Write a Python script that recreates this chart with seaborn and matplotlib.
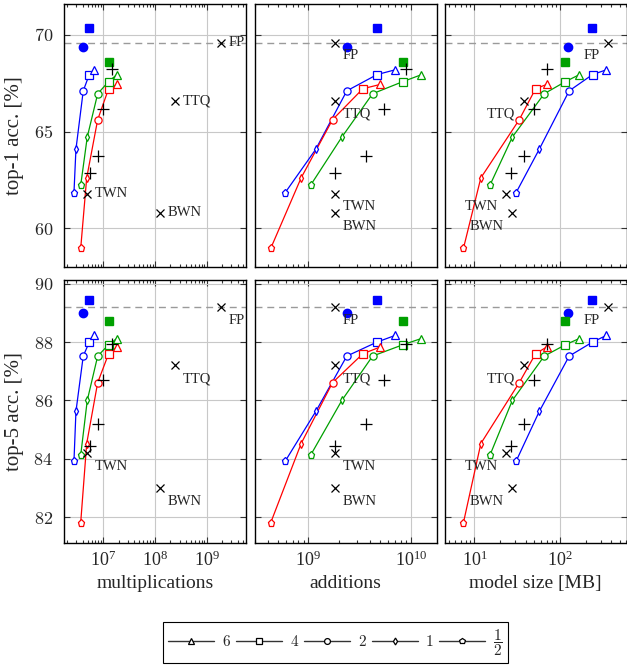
import numpy as np
import pandas as pd
import matplotlib
matplotlib.use("Agg")
import matplotlib.pyplot as plt
import seaborn as sns
from matplotlib.lines import Line2D
from matplotlib.ticker import LogLocator, NullFormatter, FuncFormatter, FixedLocator

# ==========================================
# DATA
# ==========================================

bit_labels = ["1/2", "1", "2", "4", "6"]
bit_markers = ["p", "d", "o", "s", "^"]

# blue series
blue_top1 = [61.84, 64.09, 67.11, 67.95, 68.20]
blue_top5 = [83.91, 85.62, 87.52, 88.00, 88.23]
blue_mult = [2.71e6, 2.96e6, 4.10e6, 5.36e6, 6.61e6]
blue_add = [5.92e8, 1.18e9, 2.37e9, 4.67e9, 7.05e9]
blue_size = [30.7, 57.4, 128.5, 241.0, 351.0]

# red series
red_top1 = [58.97, 62.61, 65.62, 67.22, 67.44]
red_top5 = [81.81, 84.52, 86.61, 87.60, 87.83]
red_mult = [3.66e6, 4.78e6, 7.80e6, 1.27e7, 1.82e7]
red_add = [4.29e8, 8.49e8, 1.72e9, 3.40e9, 5.01e9]
red_size = [7.45, 11.9, 33.5, 52.0, 70.0]

# green series
green_top1 = [62.23, 64.72, 66.96, 67.59, 67.94]
green_top5 = [84.12, 86.00, 87.52, 87.91, 88.12]
green_mult = [3.66e6, 4.90e6, 7.80e6, 1.27e7, 1.82e7]
green_add = [1.05e9, 2.12e9, 4.23e9, 8.38e9, 1.26e10]
green_size = [15.2, 27.8, 65.6, 116.4, 167.9]

# full precision variants (filled markers)
fp_names = ["blue_sq", "blue_ci", "green_sq"]
fp_colors = ["#0000ff", "#0000ff", "#00a000"]
fp_marks = ["s", "o", "s"]
fp_top1 = [70.36, 69.36, 68.59]
fp_top5 = [89.43, 89.01, 88.71]
fp_mult = [5.36e6, 4.10e6, 1.27e7]
fp_add = [4.67e9, 2.37e9, 8.38e9]
fp_size = [239.0, 126.0, 116.4]

# other methods (+)
plus_top1 = [68.25, 66.19, 63.73, 62.87]
plus_top5 = [87.94, 86.71, 85.20, 84.42]
plus_mult = [1.50e7, 1.00e7, 7.94e6, 5.50e6]
plus_add = [9.02e9, 5.41e9, 3.61e9, 1.82e9]
plus_size = [71.1, 50.1, 38.0, 26.6]

# baselines (x)
base_names = ["FP", "TTQ", "TWN", "BWN"]
base_top1 = [69.6, 66.6, 61.8, 60.8]
base_top5 = [89.2, 87.2, 84.2, 83.0]
base_mult = [1.86e9, 2.44e8, 4.90e6, 1.25e8]
base_add = [1.82e9, 1.82e9, 1.82e9, 1.82e9]
base_size = [366.0, 38.0, 23.4, 27.3]

fp_line_top1 = 69.6
fp_line_top5 = 89.2

# ==========================================
# FRAMES
# ==========================================

series = {
    "blue": (blue_top1, blue_top5, blue_mult, blue_add, blue_size),
    "red": (red_top1, red_top5, red_mult, red_add, red_size),
    "green": (green_top1, green_top5, green_mult, green_add, green_size),
}
palette = {"blue": "#0000ff", "red": "#ff0000", "green": "#00a000"}

rows = []
for name, (t1, t5, mu, ad, sz) in series.items():
    for i, b in enumerate(bit_labels):
        rows.append({
            "series": name, "bits": b,
            "top1": t1[i], "top5": t5[i],
            "mult": mu[i], "add": ad[i], "size": sz[i],
        })
df = pd.DataFrame(rows)

fp_df = pd.DataFrame({
    "name": fp_names, "top1": fp_top1, "top5": fp_top5,
    "mult": fp_mult, "add": fp_add, "size": fp_size,
})
plus_df = pd.DataFrame({
    "top1": plus_top1, "top5": plus_top5,
    "mult": plus_mult, "add": plus_add, "size": plus_size,
})
base_df = pd.DataFrame({
    "name": base_names, "top1": base_top1, "top5": base_top5,
    "mult": base_mult, "add": base_add, "size": base_size,
})

# ==========================================
# STYLE
# ==========================================

sns.set_theme(style="ticks")
plt.rcParams["font.family"] = ["Liberation Serif", "DejaVu Serif"]
plt.rcParams["mathtext.fontset"] = "cm"

fig = plt.figure(figsize=(6.27, 6.66), dpi=100)

col_left = [0.1021, 0.4062, 0.7093]
col_w = 0.290
row_bottom = [0.599, 0.1842]
row_h = 0.395

xcols = ["mult", "add", "size"]
xlims = [(1.74e6, 5.75e9), (2.99e8, 1.78e10), (4.5, 603)]
xlabels = ["multiplications", "additions", "model size [MB]"]
ycols = ["top1", "top5"]
ylims = [(58.0, 71.6), (81.1, 90.12)]
yticks = [[60, 65, 70], [82, 84, 86, 88, 90]]
ylabels = ["top-1 acc. [%]", "top-5 acc. [%]"]
fp_lines = [fp_line_top1, fp_line_top5]

math_fmt = FuncFormatter(lambda v, p: f"${v:g}$")

for r in range(2):
    for c in range(3):
        ax = fig.add_axes([col_left[c], row_bottom[r], col_w, row_h])
        ax.set_xscale("log")
        xc = xcols[c]
        yc = ycols[r]

        ax.axhline(fp_lines[r], color="#9a9a9a", lw=1.0,
                   ls=(0, (5, 3.5)), zorder=1)

        sns.lineplot(
            data=df, x=xc, y=yc, hue="series", palette=palette,
            sort=False, estimator=None, legend=False,
            lw=0.9, ax=ax, zorder=3
        )

        for name in series:
            sub = df[df["series"] == name]
            for b, m in zip(bit_labels, bit_markers):
                pt = sub[sub["bits"] == b]
                ax.plot(
                    pt[xc], pt[yc], ls="none", marker=m,
                    ms=4.2 if m == "d" else 5.2,
                    mfc="white", mec=palette[name], mew=0.9, zorder=4
                )

        for _, row in fp_df.iterrows():
            col = fp_colors[fp_names.index(row["name"])]
            mk = fp_marks[fp_names.index(row["name"])]
            ax.plot(row[xc], row[yc], ls="none", marker=mk, ms=6,
                    mfc=col, mec=col, zorder=4)

        ax.plot(plus_df[xc], plus_df[yc], ls="none", marker="+",
                ms=8, mew=0.9, color="black", zorder=5)
        ax.plot(base_df[xc], base_df[yc], ls="none", marker="x",
                ms=5.5, mew=0.9, color="black", zorder=5)

        for _, row in base_df.iterrows():
            if r == 0 and c == 0:
                off, ha, va = (5.5, 0), "left", "center"
            elif c == 2:
                off, ha, va = (-6, -9.5), "right", "center"
            else:
                off, ha, va = (5.5, -9.5), "left", "center"
            ax.annotate(row["name"], (row[xc], row[yc]), xytext=off,
                        textcoords="offset points", ha=ha, va=va,
                        fontsize=10.5, zorder=6)

        ax.set_xlim(*xlims[c])
        ax.set_ylim(*ylims[r])

        ax.xaxis.set_major_locator(LogLocator(base=10, subs=(1.0,), numticks=100))
        ax.xaxis.set_minor_locator(
            LogLocator(base=10, subs=np.arange(2, 10), numticks=100))
        ax.xaxis.set_minor_formatter(NullFormatter())
        ax.yaxis.set_major_locator(FixedLocator(yticks[r]))
        ax.yaxis.set_major_formatter(math_fmt)

        ax.grid(True, which="major", color="#c8c8c8", lw=0.8)
        ax.set_axisbelow(True)

        ax.tick_params(which="both", direction="in", top=True, right=True,
                       color="#333333", width=0.8)
        ax.tick_params(which="major", length=4.5, labelsize=13)
        ax.tick_params(which="minor", length=2.5)
        ax.tick_params(axis="x", pad=5)
        ax.tick_params(axis="y", pad=8)

        for sp in ax.spines.values():
            sp.set_color("black")
            sp.set_linewidth(1.0)

        ax.set_xlabel("")
        ax.set_ylabel("")
        if r == 0:
            ax.tick_params(axis="x", labelbottom=False)
        else:
            ax.set_xlabel(xlabels[c], fontsize=14, labelpad=4)
        if c == 0:
            ax.set_ylabel(ylabels[r], fontsize=15, labelpad=7)
        else:
            ax.tick_params(axis="y", labelleft=False)

# ==========================================
# LEGEND
# ==========================================

legend_labels = ["$6$", "$4$", "$2$", "$1$", r"$\dfrac{1}{2}$"]
handles = []
for m in ["^", "s", "o", "d", "p"]:
    handles.append(Line2D(
        [0], [0], color="#333333", lw=1.0, marker=m,
        ms=4.2 if m != "d" else 3.5, mfc="white", mec="black", mew=0.9
    ))

leg = fig.legend(
    handles, legend_labels, loc="center",
    bbox_to_anchor=(0.535, 0.0353), ncol=5,
    fontsize=11, frameon=True, fancybox=False,
    edgecolor="black", framealpha=1.0,
    handlelength=3.0, handletextpad=0.5, columnspacing=0.35,
    borderpad=0.35
)
leg.get_frame().set_linewidth(0.8)

fig.savefig("out.png", dpi=100)
